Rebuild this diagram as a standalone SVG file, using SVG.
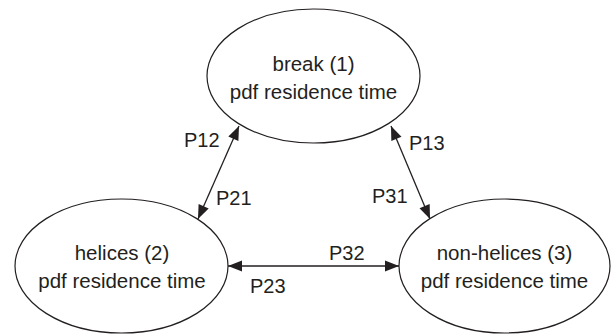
<svg xmlns="http://www.w3.org/2000/svg" width="611" height="335" viewBox="0 0 611 335">
  <style>
    .state { fill: #ffffff; stroke: #231f20; stroke-width: 1.2; }
    .name { font-family: "Liberation Sans", Arial, sans-serif; font-size: 20.5px; fill: #231f20; text-anchor: middle; }
    .prob { font-family: "Liberation Sans", Arial, sans-serif; font-size: 20px; fill: #231f20; }
    .link { stroke: #231f20; stroke-width: 1.3; fill: none; marker-start: url(#head); marker-end: url(#head); }
  </style>
  <defs>
    <marker id="head" markerUnits="userSpaceOnUse" markerWidth="16" markerHeight="14" viewBox="-15 -7 16 14" refX="0" refY="0" orient="auto-start-reverse">
      <path d="M0,0 L-14,-5.5 L-14,5.5 Z" fill="#231f20"/>
    </marker>
  </defs>
  <rect width="611" height="335" fill="#ffffff"/>

  <!-- transitions between states -->
  <g id="connectors">
    <line class="link" x1="198" y1="219" x2="239" y2="126"/>
    <line class="link" x1="391" y1="126" x2="430" y2="219"/>
    <line class="link" x1="228" y1="266" x2="399" y2="266"/>
    <text class="prob" x="184" y="147">P12</text>
    <text class="prob" x="216" y="205">P21</text>
    <text class="prob" x="409" y="150">P13</text>
    <text class="prob" x="372" y="203">P31</text>
    <text class="prob" x="329" y="260">P32</text>
    <text class="prob" x="250" y="293">P23</text>
  </g>

  <g id="break">
    <ellipse class="state" cx="313.5" cy="76" rx="106.5" ry="67"/>
    <text class="name" x="313.5" y="71">break (1)</text>
    <text class="name" x="313.5" y="99">pdf residence time</text>
  </g>

  <g id="helices">
    <ellipse class="state" cx="121.5" cy="266" rx="106.5" ry="67"/>
    <text class="name" x="122" y="260">helices (2)</text>
    <text class="name" x="122" y="288">pdf residence time</text>
  </g>

  <g id="non-helices">
    <ellipse class="state" cx="504.5" cy="266" rx="105.5" ry="67"/>
    <text class="name" x="504.5" y="260">non-helices (3)</text>
    <text class="name" x="504.5" y="288">pdf residence time</text>
  </g>
</svg>
